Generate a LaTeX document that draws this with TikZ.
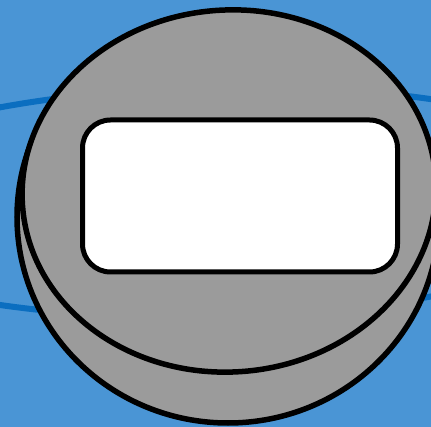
\documentclass[tikz,border=0pt]{standalone}
\definecolor{bgblue}{HTML}{4A95D5}
\definecolor{orbit}{HTML}{0B6EC0}
\definecolor{coin}{HTML}{9B9B9B}
\tikzset{
  coinline/.style={draw=black, line width=5.5pt, fill=coin},
  orbitline/.style={draw=orbit, line width=6pt},
  labelbox/.style={draw=black, line width=5pt, fill=white, rounded corners=28pt, minimum width=315pt, minimum height=152pt, inner sep=0pt}
}
\begin{document}
\begin{tikzpicture}[x=1pt,y=-1pt]
\useasboundingbox (0,0) rectangle (431,427);
\clip (0,0) rectangle (431,427);
\fill[bgblue] (0,0) rectangle (431,427);
\draw[orbitline, rotate around={1.2:(215,202)}] (215,202) ellipse [x radius=420, y radius=115];
\draw[coinline] (228,217) ellipse [x radius=211, y radius=206];
\draw[coinline, rotate around={4:(229,191)}] (229,191) ellipse [x radius=207, y radius=181];
\node[labelbox] (box) at (240,196) {};
\end{tikzpicture}
\end{document}
